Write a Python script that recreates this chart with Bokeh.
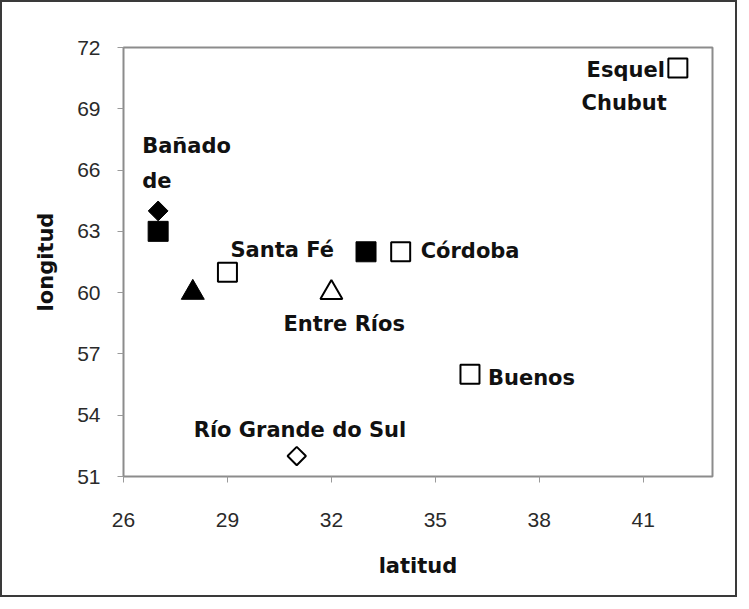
import numpy as np
from bokeh.plotting import figure
from bokeh.models import ColumnDataSource, FixedTicker
from bokeh.core.properties import value
from bokeh.embed import file_html
from bokeh.resources import INLINE

# ---- data ----
x_ticks = [26, 29, 32, 35, 38, 41]
y_ticks = [51, 54, 57, 60, 63, 66, 69, 72]

sq_open_lat = [29, 34, 36, 42]
sq_open_lon = [61, 62, 56, 71]

sq_fill_lat = [27, 33]
sq_fill_lon = [63, 62]

tri_fill_lat = [28]
tri_fill_lon = [60]

tri_open_lat = [32]
tri_open_lon = [60]

dia_fill_lat = [27]
dia_fill_lon = [64]

dia_open_lat = [31]
dia_open_lon = [52]

label_text = ["Bañado", "de", "Santa Fé", "Córdoba", "Entre Ríos", "Buenos",
              "Río Grande do Sul", "Esquel", "Chubut"]
label_lat = [27, 27, 29, 34, 32, 36, 31, 42, 42]
label_lon = [64, 64, 61, 62, 60, 56, 52, 71, 71]

# ---- styling (screen offsets for labels) ----
label_dx = [-16, -16, 3, 20, -48, 18, -103, -13, -11]
label_dy = [-65, -30, -22, -1, 31, 4, -26, 2, 35]
label_align = ["left", "left", "left", "left", "left", "left", "left", "right", "right"]

BOLD_FONT = "DejaVu Sans"

p = figure(width=737, height=597, output_backend="svg", toolbar_location=None,
           x_range=(26, 43), y_range=(51, 72),
           min_border_left=121, min_border_top=45, min_border_right=27, min_border_bottom=123)
p.styles = {"border": "2px solid #3a3a3a"}

p.xgrid.visible = False
p.ygrid.visible = False
p.outline_line_color = "#8c8c8c"
p.outline_line_width = 2
p.background_fill_color = "white"
p.border_fill_color = "white"

for ax, ticks in ((p.xaxis[0], x_ticks), (p.yaxis[0], y_ticks)):
    ax.ticker = FixedTicker(ticks=ticks)
    ax.axis_line_color = None
    ax.major_tick_line_color = "#9a9a9a"
    ax.major_tick_line_width = 1
    ax.major_tick_in = 0
    ax.major_tick_out = 6
    ax.minor_tick_line_color = None
    ax.major_label_text_font = "Liberation Sans"
    ax.major_label_text_font_size = "21px"
    ax.major_label_text_color = "#2a2a2a"
    ax.axis_label_text_font = BOLD_FONT
    ax.axis_label_text_font_style = "bold"
    ax.axis_label_text_font_size = "21px"
    ax.axis_label_text_color = "#111111"

p.xaxis.axis_label = "latitud"
p.yaxis.axis_label = "longitud"
p.xaxis.major_label_standoff = 30
p.yaxis.major_label_standoff = 17
p.xaxis.axis_label_standoff = 24
p.yaxis.axis_label_standoff = 16

# markers
p.scatter(sq_open_lat, sq_open_lon, marker="square", size=19,
          fill_color="white", line_color="black", line_width=2)
p.scatter(sq_fill_lat, sq_fill_lon, marker="square", size=20,
          fill_color="black", line_color="black", line_width=1)
p.scatter(tri_fill_lat, tri_fill_lon, marker="triangle", size=23,
          fill_color="black", line_color="black", line_width=1)
p.scatter(tri_open_lat, tri_open_lon, marker="triangle", size=22,
          fill_color="white", line_color="black", line_width=2)
p.scatter(dia_fill_lat, dia_fill_lon, marker="square", size=14, angle=np.pi / 4,
          fill_color="black", line_color="black", line_width=1)
p.scatter(dia_open_lat, dia_open_lon, marker="square", size=13, angle=np.pi / 4,
          fill_color="white", line_color="black", line_width=2)

src = ColumnDataSource(dict(x=label_lat, y=label_lon, t=label_text,
                            dx=label_dx, dy=label_dy, al=label_align))
p.text(x="x", y="y", text="t", x_offset="dx", y_offset="dy", text_align="al",
       source=src, text_baseline="middle", text_font=value(BOLD_FONT),
       text_font_style="bold", text_font_size="21px", text_color="#111111")

open("out.html", "w").write(file_html(p, INLINE))
